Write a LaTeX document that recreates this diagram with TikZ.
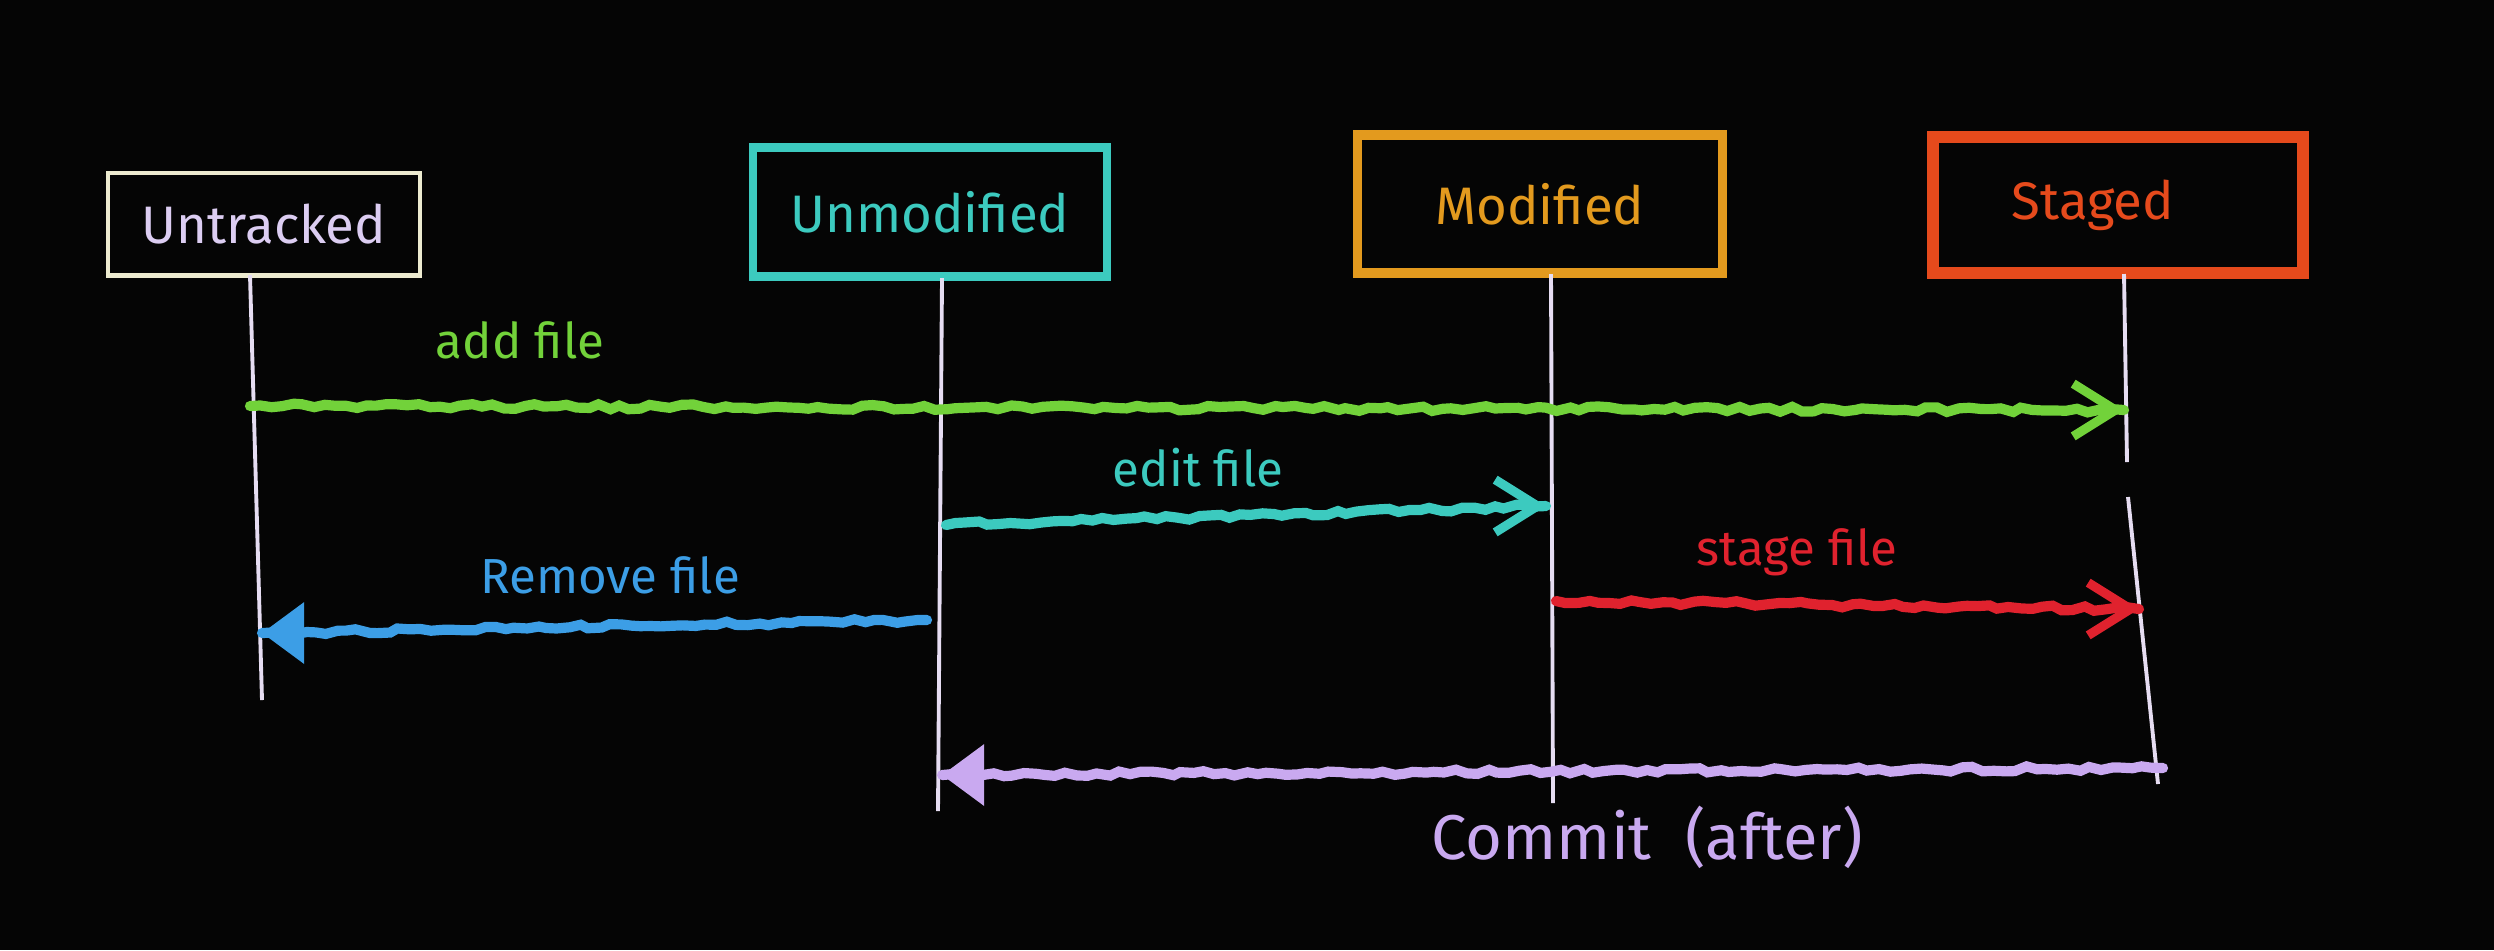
\documentclass[tikz,border=0pt]{standalone}
\usepackage{fontspec}
\setmainfont{Fira Sans}
\usetikzlibrary{arrows.meta,decorations.pathmorphing,calc}
\definecolor{bgc}{HTML}{050505}
\definecolor{cream}{HTML}{EDEBD0}
\definecolor{lav}{HTML}{DCCDF2}
\definecolor{life}{HTML}{E6DDF2}
\definecolor{cgreen}{HTML}{72D23A}
\definecolor{ccyan}{HTML}{3CCABF}
\definecolor{cblue}{HTML}{3C9EE6}
\definecolor{cred}{HTML}{E0222E}
\definecolor{cpurp}{HTML}{C9A9F0}
\definecolor{corange}{HTML}{E39A1E}
\definecolor{cstaged}{HTML}{E64A1C}
\tikzset{
  rough/.style={decorate,decoration={random steps,segment length=3pt,amplitude=0.7pt}},
  statebox/.style={rectangle,minimum width=#1,inner sep=0pt,font=\fontsize{15}{18}\selectfont},
  lifeline/.style={draw=life,line width=1.1pt},
  msg/.style={line width=2.9pt,rough,line cap=round},
  lbl/.style={font=\fontsize{14}{17}\selectfont,inner sep=0pt},
  openhead/.style={-{Straight Barb[length=12pt,width=15pt,line width=2.6pt]}},
  fillhead/.style={-{Triangle[length=12pt,width=17pt]}},
}
\begin{document}
\pgfmathsetseed{7}
\begin{tikzpicture}[x=0.01cm,y=-0.01cm]
\fill[bgc] (0,0) rectangle (2494,950);
\useasboundingbox (0,0) rectangle (2494,950);

% state boxes
\node[statebox=312*0.01cm,minimum height=1.02cm,draw=cream,line width=1.4pt,text=lav] (unt) at (264,224) {Untracked};
\node[statebox=354*0.01cm,minimum height=1.29cm,draw=ccyan,line width=2.4pt,text=ccyan] (unm) at (930,212) {Unmodified};
\node[statebox=365*0.01cm,minimum height=1.38cm,draw=corange,line width=2.8pt,text=corange] (mod) at (1540,204) {Modified};
\node[statebox=370*0.01cm,minimum height=1.36cm,draw=cstaged,line width=3.2pt,text=cstaged] (stg) at (2118,205) {\hspace*{-0.5cm}Staged};

% lifeline tops and ends
\coordinate (untT) at (250,275);
\coordinate (untE) at (262,700);
\coordinate (unmT) at (942,278);
\coordinate (unmE) at (938,811);
\coordinate (modT) at (1551,274);
\coordinate (modE) at (1553,803);
\coordinate (stgT) at (2124,274);
\coordinate (stgG1) at (2127,462);
\coordinate (stgG2) at (2128,497);
\coordinate (stgE) at (2158,784);
\draw[lifeline] (untT) -- (untE);
\draw[lifeline] (unmT) -- (unmE);
\draw[lifeline] (modT) -- (modE);
\draw[lifeline] (stgT) -- (stgG1);
\draw[lifeline] (stgG2) -- (stgE);

% message anchors
\coordinate (a1) at (250,406);
\coordinate (a2) at (2124,410);
\coordinate (e1) at (946,525);
\coordinate (e2) at (1546,506);
\coordinate (r1) at (927,620);
\coordinate (r2) at (262,633);
\coordinate (s1) at (1556,601);
\coordinate (s2) at (2139,609);
\coordinate (c1) at (2163,768);
\coordinate (c2) at (942,775);

% messages
\draw[msg,draw=cgreen] (a1) -- (a2);
\draw[openhead,draw=cgreen] ($(a2)+(-5,0)$) -- (a2);
\draw[msg,draw=ccyan] (e1) -- (e2);
\draw[openhead,draw=ccyan] ($(e2)+(-5,0)$) -- (e2);
\draw[msg,draw=cblue] (r1) -- (r2);
\draw[fillhead,draw=cblue,fill=cblue,line width=2.4pt] ($(r2)+(5,0)$) -- (r2);
\draw[msg,draw=cred] (s1) -- (s2);
\draw[openhead,draw=cred] ($(s2)+(-5,0)$) -- (s2);
\draw[msg,draw=cpurp] (c1) -- (c2);
\draw[fillhead,draw=cpurp,fill=cpurp,line width=2.4pt] ($(c2)+(5,0)$) -- (c2);

% labels
\node[lbl,text=cgreen] (la) at (520,340) {add file};
\node[lbl,text=ccyan] (le) at (1198,468) {edit file};
\node[lbl,text=cblue] (lr) at (610,575) {Remove file};
\node[lbl,text=cred] (ls) at (1797,552) {stage file};
\node[lbl,text=cpurp,font=\fontsize{18}{21}\selectfont] (lc) at (1647,837) {Commit\ \ (after)};
\end{tikzpicture}
\end{document}
